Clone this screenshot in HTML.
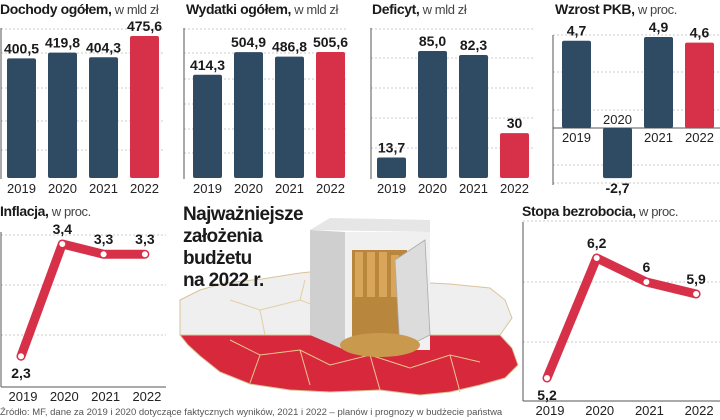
<!DOCTYPE html>
<html><head><meta charset="utf-8"><style>
html,body{margin:0;padding:0;background:#fff;width:720px;height:420px;overflow:hidden}
svg{display:block}
text{font-family:"Liberation Sans Narrow","Liberation Sans",sans-serif}
.t{font-weight:bold;font-size:14px;fill:#1a1a1a;letter-spacing:-0.4px}
.ts{font-weight:normal;fill:#444}
.v{font-weight:bold;font-size:14px;fill:#1a1a1a;text-anchor:middle}
.y{font-size:13px;fill:#222;text-anchor:middle;font-family:"Liberation Sans",sans-serif}
.g{stroke:#bbb;stroke-width:0.8;stroke-dasharray:2,2}
.h{font-size:19px;font-weight:bold;fill:#1a1a1a;font-family:"Liberation Sans",sans-serif;letter-spacing:-0.6px}
</style></head><body>
<svg id="c" width="720" height="420" viewBox="0 0 720 420" xmlns="http://www.w3.org/2000/svg">
<g>
<path d="M180,300 L200,290 L225,283 L262,279 L300,273 L330,270 L360,278 L410,282 L450,284 L490,288 L505,300 L512,318 L500,335 L180,335 Z" fill="#efefef" stroke="#d9c49a" stroke-width="1"/>
<path d="M180,335 L500,335 L512,348 L518,365 L505,378 L480,385 L450,392 L420,395 L380,390 L330,392 L290,390 L250,384 L220,372 L200,356 L188,345 Z" fill="#d8283c" stroke="#d9c49a" stroke-width="1"/>
<path d="M230,340 L260,355 L300,350 L330,365 L370,355 L410,368 L450,355 L480,362 M300,350 L310,385 M370,355 L380,390 M450,355 L460,392 M260,355 L250,383" fill="none" stroke="#e8c98e" stroke-width="1"/>
<path d="M230,300 L260,310 L300,300 L340,315 M260,310 L265,335 M300,300 L305,280" fill="none" stroke="#e3cfa5" stroke-width="1"/>
</g>
<g>
<polygon points="310,230 330,218 430,220 430,232" fill="#e6e6e6"/>
<polygon points="310,230 345,232 345,350 310,335" fill="#cfcfcf"/>
<rect x="345" y="232" width="85" height="118" fill="#f0f0f0"/>
<rect x="352" y="250" width="55" height="95" fill="#b9863e"/>
<rect x="355" y="252" width="8" height="45" fill="#d9a55a"/><rect x="367" y="252" width="8" height="45" fill="#d9a55a"/><rect x="379" y="252" width="8" height="45" fill="#d9a55a"/><rect x="391" y="255" width="8" height="42" fill="#d9a55a"/>
<polygon points="395,260 425,240 430,335 400,350" fill="#dcdcdc" stroke="#aaa" stroke-width="0.8"/>
<ellipse cx="380" cy="345" rx="40" ry="12" fill="#c99a4d"/>
</g>
<text x="183" y="220" class="h">Najważniejsze</text>
<text x="183" y="242" class="h">założenia</text>
<text x="183" y="264" class="h">budżetu</text>
<text x="183" y="286" class="h">na 2022 r.</text>
<text x="0" y="415" font-size="9.5" fill="#555" font-family="Liberation Sans,sans-serif">Źródło: MF, dane za 2019 i 2020 dotyczące faktycznych wyników, 2021 i 2022 – planów i prognozy w budżecie państwa</text>
</svg>
<script>
const years = ["2019","2020","2021","2022"];
const dochody = [400.5, 419.8, 404.3, 475.6];
const dochodyLabels = ["400,5","419,8","404,3","475,6"];
const wydatki = [414.3, 504.9, 486.8, 505.6];
const wydatkiLabels = ["414,3","504,9","486,8","505,6"];
const deficyt = [13.7, 85.0, 82.3, 30];
const deficytLabels = ["13,7","85,0","82,3","30"];
const pkb = [4.7, -2.7, 4.9, 4.6];
const pkbLabels = ["4,7","-2,7","4,9","4,6"];
const inflacja = [2.3, 3.4, 3.3, 3.3];
const inflacjaLabels = ["2,3","3,4","3,3","3,3"];
const bezrobocie = [5.2, 6.2, 6, 5.9];
const bezrobocieLabels = ["5,2","6,2","6","5,9"];

const NS="http://www.w3.org/2000/svg", svg=document.getElementById('c');
const NAVY="#2f4a63", RED="#d7314a";
function mk(tag,attrs,parent){const e=document.createElementNS(NS,tag);for(const k in attrs)e.setAttribute(k,attrs[k]);(parent||svg).appendChild(e);return e;}
function title(x,y,bold,rest){const t=mk('text',{x:x,y:y,class:'t'});
 
 
 const a=mk('tspan',{},t);a.textContent=bold;const b=mk('tspan',{class:'ts','font-family':'Liberation Sans,sans-serif','font-size':'13'},t);b.textContent=" "+rest;}

function barChart(o){
 const g=mk('g',{});
 
 
 title(o.tx,14,o.t1,o.t2);
 const yS=v=>o.zero-(v*o.scale);
 o.grid.forEach(gy=>{const l=mk('line',{x1:o.ax,x2:o.ax+o.w,y1:gy,y2:gy,class:'g'},g);
  
  });
 const ax=mk('line',{x1:o.ax,x2:o.ax,y1:o.axTop,y2:o.axBot,stroke:'#555','stroke-width':1},g);
 
 
 if(o.zeroLine){const z=mk('line',{x1:o.ax,x2:o.ax+o.w,y1:o.zero,y2:o.zero,stroke:'#555','stroke-width':1},g);
  
  }
 o.vals.forEach((v,i)=>{
  const x=o.x0+i*o.step, top=Math.min(yS(v),o.zero), h=Math.abs(yS(v)-o.zero);
  const r=mk('rect',{x:x,y:top,width:o.bw,height:h,rx:2,fill:i===3?RED:NAVY},g);
  
  
  const cx=x+o.bw/2;
  const lv=mk('text',{x:cx,y:v>=0?yS(v)-5:yS(v)+15,class:'v'},g);lv.textContent=o.labels[i];
  
  
  let yy=o.yearY; if(o.zeroLine){yy=v>=0?o.zero+14:o.zero-4;}
  const ly=mk('text',{x:cx,y:yy,class:'y'},g);ly.textContent=years[i];
  
  
 });
}
barChart({name:'dochody-chart',t1:'Dochody ogółem,',t2:'w mld zł',tx:0,vals:dochody,labels:dochodyLabels,ax:1,w:162,axTop:28,axBot:179,zero:178,scale:142/475.6,x0:7,step:41,bw:29,yearY:193,grid:[29,53,88,121,150]});
barChart({name:'wydatki-chart',t1:'Wydatki ogółem,',t2:'w mld zł',tx:186,vals:wydatki,labels:wydatkiLabels,ax:184,w:162,axTop:28,axBot:179,zero:178,scale:126/505.6,x0:193,step:41,bw:29,yearY:193,grid:[29,53,79,104,129,153]});
barChart({name:'deficyt-chart',t1:'Deficyt,',t2:'w mld zł',tx:372,vals:deficyt,labels:deficytLabels,ax:371,w:162,axTop:28,axBot:179,zero:178,scale:127/85,x0:377,step:41,bw:29,yearY:193,grid:[29,58,88,118,148]});
barChart({name:'pkb-chart',t1:'Wzrost PKB,',t2:'w proc.',tx:555,vals:pkb,labels:pkbLabels,ax:553,w:167,axTop:35,axBot:185,zero:128,scale:91/4.9,x0:562,step:41,bw:29,yearY:0,grid:[35,72,110,165,183],zeroLine:true});

function lineChart(o){
 const g=mk('g',{});
 
 
 title(o.tx,o.ty,o.t1,o.t2);
 const yS=v=>o.refY-(v-o.refV)*o.scale;
 o.grid.forEach(gy=>{const l=mk('line',{x1:o.ax,x2:o.ax+o.w,y1:gy,y2:gy,class:'g'},g);
  
  });
 const a=mk('line',{x1:o.ax,x2:o.ax,y1:o.axTop,y2:o.axBot,stroke:'#555','stroke-width':1},g);
 
 
 const b=mk('line',{x1:o.ax,x2:o.ax+o.w,y1:o.axBot,y2:o.axBot,stroke:'#555','stroke-width':1},g);
 
 
 const pts=o.vals.map((v,i)=>[o.x0+i*o.step,yS(v)]);
 const pl=mk('polyline',{points:pts.map(p=>p.join(',')).join(' '),fill:'none',stroke:RED,'stroke-width':9,'stroke-linejoin':'round','stroke-linecap':'round'},g);
 
 
 pts.forEach((p,i)=>{
  const c=mk('circle',{cx:p[0],cy:p[1],r:3.5,fill:'#fff',stroke:RED,'stroke-width':1},g);
  
  
  const low=(i===0);
  const t=mk('text',{x:p[0],y:low?p[1]+22:p[1]-10,class:'v'},g);t.textContent=o.labels[i];
  
  
  const y=mk('text',{x:o.lx0+i*o.step,y:o.axBot+14,class:'y'},g);y.textContent=years[i];
  
  
 });
}
lineChart({name:'inflacja-chart',t1:'Inflacja,',t2:'w proc.',tx:0,ty:216,vals:inflacja,labels:inflacjaLabels,ax:1,w:165,axTop:232,axBot:387,refY:244,refV:3.4,scale:102,x0:21,step:41.3,lx0:23,grid:[235,285,335]});
lineChart({name:'bezrobocie-chart',t1:'Stopa bezrobocia,',t2:'w proc.',tx:522,ty:216,vals:bezrobocie,labels:bezrobocieLabels,ax:523,w:197,axTop:222,axBot:401,refY:258,refV:6.2,scale:120,x0:547,step:49.7,lx0:550,grid:[221,282,342]});
</script>
</body></html>
